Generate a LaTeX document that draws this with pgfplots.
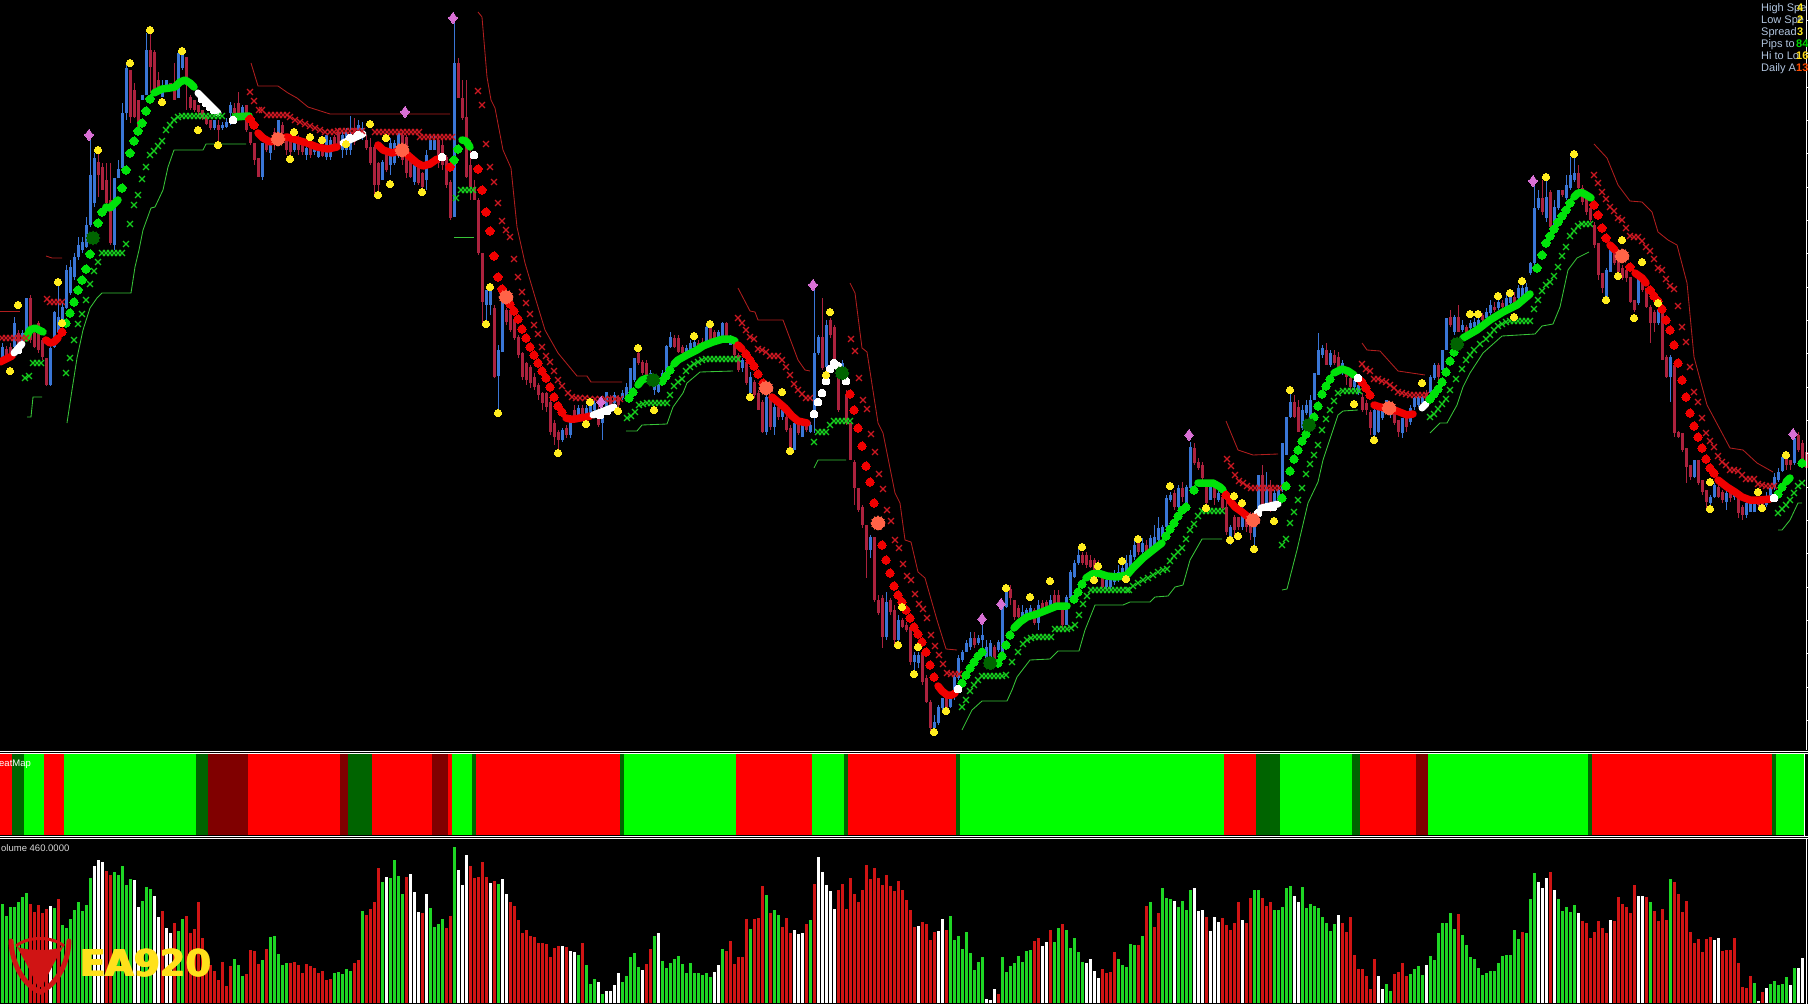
\documentclass[border=0pt]{standalone}
\usepackage{pgfplots}
\usepackage{pgfplotstable}
\usepackage{fontspec}
\setmainfont{Liberation Sans}
\newfontfamily\djsans{DejaVu Sans}
\pgfplotsset{compat=1.18}
\definecolor{cblue}{RGB}{58,118,214}
\definecolor{cred}{RGB}{172,34,62}
\definecolor{vg}{RGB}{30,214,36}
\definecolor{vr}{RGB}{208,20,20}
\definecolor{lg}{RGB}{56,196,56}
\definecolor{lr}{RGB}{176,30,30}
\definecolor{xg}{RGB}{22,205,30}
\definecolor{xr}{RGB}{205,24,34}
\definecolor{dg}{RGB}{0,226,10}
\definecolor{dotr}{RGB}{240,0,0}
\definecolor{dk}{RGB}{0,100,0}
\definecolor{dkr}{RGB}{128,0,0}
\definecolor{yel}{RGB}{255,236,30}
\definecolor{pink}{RGB}{218,112,214}
\definecolor{salm}{RGB}{255,99,71}
\definecolor{txt}{RGB}{176,196,222}
\pgfplotstableread[row sep=\\]{
x a b t d c\\
2 343 360 347 357 0\\ 6 346 362 349 357 1\\ 10 343 356 347 353 1\\ 14 317 350 323 347 0\\ 18 330 348 333 347 1\\ 22 330 345 333 343 0\\
26 298 337 298 333 0\\ 30 295 343 298 340 1\\ 34 330 348 333 347 1\\ 38 321 353 323 350 1\\ 42 338 360 340 357 1\\ 46 358 386 358 385 1\\
50 340 386 348 385 0\\ 54 311 348 312 347 0\\ 58 284 334 317 333 0\\ 62 303 327 307 322 0\\ 66 265 309 270 308 0\\ 70 260 295 267 293 0\\
74 253 280 257 277 0\\ 78 237 260 245 257 0\\ 82 237 253 242 250 0\\ 86 217 248 225 247 0\\ 90 138 227 175 225 0\\ 94 153 207 158 203 0\\
98 153 197 162 175 1\\ 102 163 190 167 190 1\\ 106 163 213 180 203 1\\ 110 163 245 200 243 1\\ 114 178 250 178 245 0\\ 118 160 178 169 178 0\\
122 103 170 113 168 0\\ 126 65 120 68 113 0\\ 130 70 123 70 117 1\\ 134 83 118 90 117 1\\ 138 100 127 100 127 1\\ 142 95 100 95 100 0\\
146 33 95 50 95 0\\ 150 33 93 50 67 1\\ 154 50 90 52 90 1\\ 158 72 90 80 90 1\\ 162 80 97 87 97 0\\ 166 80 90 80 90 0\\ 170 83 90 83 90 1\\
174 63 100 88 100 1\\ 178 53 98 53 98 0\\ 182 50 70 52 68 0\\ 186 57 110 57 78 1\\ 190 95 110 97 108 1\\ 194 100 112 100 110 1\\ 198 105 118 105 112 1\\
202 110 120 110 118 1\\ 206 115 125 116 124 1\\ 210 120 130 120 128 1\\ 214 120 130 120 128 0\\ 218 120 143 125 130 1\\ 222 122 130 125 128 0\\
226 118 128 122 127 0\\ 230 102 125 105 113 0\\ 234 103 118 108 113 1\\ 238 92 115 103 113 1\\ 242 105 118 107 113 0\\ 246 105 132 105 130 1\\
250 132 145 132 143 1\\ 254 143 165 143 160 1\\ 258 158 177 158 177 1\\ 262 143 180 143 177 0\\ 266 140 152 143 150 1\\ 270 143 160 143 153 0\\
274 128 150 132 145 1\\ 278 120 145 120 140 0\\ 282 122 142 125 133 1\\ 286 135 155 135 150 1\\ 290 135 155 140 152 1\\ 294 143 152 143 150 0\\
298 135 155 142 150 1\\ 302 140 155 143 152 1\\ 306 145 160 148 155 0\\ 310 143 158 145 155 1\\ 314 145 155 148 152 0\\ 318 150 158 150 157 0\\
322 145 157 147 156 1\\ 326 135 160 135 157 0\\ 330 137 160 140 157 0\\ 334 135 150 137 148 1\\ 338 128 150 132 148 1\\ 342 130 158 135 150 0\\
346 128 155 132 150 0\\ 350 116 155 135 150 0\\ 354 118 145 128 142 1\\ 358 120 140 125 138 0\\ 362 122 140 128 137 0\\ 366 135 150 140 148 1\\
370 138 165 147 163 1\\ 374 145 195 147 185 1\\ 378 162 192 163 185 1\\ 382 160 180 162 180 0\\ 386 150 172 153 170 1\\ 390 138 175 143 165 0\\
394 140 165 143 163 0\\ 398 132 158 133 156 0\\ 402 130 165 135 160 1\\ 406 135 178 137 173 1\\ 410 155 178 160 177 1\\ 414 160 185 165 182 0\\
418 165 185 167 183 1\\ 422 172 190 173 187 1\\ 426 150 190 155 180 0\\ 430 135 150 140 150 0\\ 434 135 150 140 150 0\\ 438 135 168 140 163 1\\
442 140 170 145 165 1\\ 446 155 188 157 185 1\\ 450 180 220 182 218 1\\ 454 20 217 63 217 0\\ 458 58 98 63 98 1\\ 462 80 120 98 118 1\\
466 80 178 117 177 1\\ 470 140 200 165 187 1\\ 474 180 200 187 200 1\\ 478 198 255 200 253 1\\ 482 253 323 253 302 1\\ 486 290 320 290 305 0\\
490 288 315 290 305 0\\ 494 305 378 308 377 1\\ 498 345 413 350 376 0\\ 502 302 352 302 352 0\\ 506 308 325 310 322 1\\ 510 308 332 310 330 1\\
514 318 340 320 338 1\\ 518 335 358 337 355 1\\ 522 352 380 353 377 1\\ 526 362 385 363 380 1\\ 530 365 388 367 383 1\\ 534 373 390 377 387 1\\
538 383 400 385 395 1\\ 542 392 410 393 403 1\\ 546 392 412 393 407 1\\ 550 400 435 402 432 1\\ 554 420 445 423 437 1\\ 558 430 450 432 440 1\\
562 428 442 430 440 0\\ 566 425 438 428 435 1\\ 570 415 438 420 435 0\\ 574 405 422 410 420 1\\ 578 405 420 408 417 0\\ 582 405 418 408 415 1\\
586 405 418 408 415 0\\ 590 400 415 405 413 0\\ 594 398 412 403 410 0\\ 598 405 427 410 425 1\\ 602 408 440 413 423 0\\ 606 392 412 392 410 0\\
610 395 410 397 408 1\\ 614 392 405 395 403 0\\ 618 395 408 397 405 1\\ 622 390 400 393 398 0\\ 626 383 398 387 397 0\\ 630 368 394 368 393 0\\
634 358 382 358 380 0\\ 638 350 365 353 363 1\\ 642 360 375 362 373 1\\ 646 360 378 363 375 1\\ 650 370 384 373 383 0\\ 654 375 395 378 390 0\\
658 378 393 380 392 0\\ 662 370 385 373 383 0\\ 666 345 372 346 372 0\\ 670 332 348 337 347 0\\ 674 335 348 338 347 1\\ 678 335 353 338 352 1\\
682 345 355 347 353 1\\ 686 345 358 348 357 0\\ 690 340 352 343 352 0\\ 694 338 347 342 347 0\\ 698 340 348 343 348 1\\ 702 338 347 342 347 1\\
706 325 342 327 342 0\\ 710 322 340 328 340 1\\ 714 330 342 332 340 1\\ 718 330 340 332 338 0\\ 722 322 337 323 337 0\\ 726 322 337 323 337 1\\
730 335 345 337 345 0\\ 734 340 358 343 355 1\\ 738 353 372 355 370 1\\ 742 358 372 360 368 0\\ 746 358 385 362 383 1\\ 750 372 400 377 393 0\\
754 380 398 382 395 1\\ 758 390 410 393 410 1\\ 762 400 433 402 432 1\\ 766 395 435 397 432 0\\ 770 395 430 397 427 1\\ 774 403 435 407 427 0\\
778 405 420 407 417 1\\ 782 405 420 410 417 0\\ 786 415 432 417 430 1\\ 790 425 450 428 448 1\\ 794 420 450 423 450 0\\ 798 420 435 423 433 1\\
802 420 437 423 437 0\\ 806 420 432 423 430 1\\ 810 422 433 425 432 0\\ 814 287 433 353 413 0\\ 818 335 355 337 353 0\\ 822 298 370 337 368 1\\
826 320 368 325 367 0\\ 830 318 338 320 335 1\\ 834 325 362 327 360 1\\ 838 375 412 377 410 1\\ 842 360 380 363 377 0\\ 846 390 425 395 423 1\\
850 423 460 423 460 1\\ 854 460 505 462 488 1\\ 858 488 512 488 510 1\\ 862 505 528 507 525 1\\ 866 525 578 525 550 1\\ 870 535 558 537 550 0\\
874 537 602 537 600 1\\ 878 595 615 600 613 1\\ 882 595 648 598 637 1\\ 886 592 640 602 637 0\\ 890 598 615 600 612 1\\ 894 605 645 610 640 1\\
898 615 642 620 640 0\\ 902 618 628 620 627 1\\ 906 622 632 625 630 1\\ 910 625 665 627 662 1\\ 914 652 672 655 662 0\\ 918 652 668 655 663 0\\
922 650 685 653 682 1\\ 926 675 703 678 702 1\\ 930 700 731 702 728 1\\ 934 715 730 722 728 0\\ 938 705 725 707 723 0\\ 942 698 712 698 708 0\\
946 698 710 698 708 1\\ 950 698 708 698 707 0\\ 954 675 700 677 697 0\\ 958 655 680 658 678 0\\ 962 650 662 652 660 0\\ 966 640 652 643 652 0\\
970 632 650 638 647 0\\ 974 632 648 638 645 1\\ 978 635 645 638 643 0\\ 982 625 655 635 640 0\\ 986 640 662 647 658 0\\ 990 640 660 643 657 0\\
994 645 662 647 660 1\\ 998 640 652 642 650 0\\ 1002 605 655 605 652 0\\ 1006 590 608 590 607 0\\ 1010 585 605 589 598 1\\ 1014 600 620 600 617 1\\
1018 605 618 608 617 1\\ 1022 605 620 612 617 0\\ 1026 608 620 610 617 0\\ 1030 605 618 608 615 0\\ 1034 608 625 610 623 1\\ 1038 600 630 605 623 0\\
1042 600 612 603 610 1\\ 1046 600 608 602 608 1\\ 1050 595 610 600 607 0\\ 1054 590 608 595 605 1\\ 1058 590 605 595 603 1\\ 1062 605 628 607 625 1\\
1066 595 625 597 625 0\\ 1070 570 600 572 598 0\\ 1074 560 578 563 577 0\\ 1078 548 565 555 563 0\\ 1082 552 565 555 563 1\\ 1086 552 568 555 565 1\\
1090 555 568 560 567 1\\ 1094 558 575 560 573 1\\ 1098 560 578 565 575 1\\ 1102 575 588 578 587 1\\ 1106 575 590 580 587 0\\ 1110 575 590 578 587 0\\
1114 570 585 575 582 0\\ 1118 565 582 572 580 0\\ 1122 560 577 568 575 0\\ 1126 555 572 563 572 0\\ 1130 550 570 555 568 0\\ 1134 540 560 545 557 0\\
1138 538 555 543 552 1\\ 1142 538 555 543 552 0\\ 1146 540 555 545 553 1\\ 1150 535 552 538 550 0\\ 1154 525 547 537 545 0\\ 1158 517 541 528 540 0\\
1162 525 540 527 537 0\\ 1166 495 530 498 527 0\\ 1170 492 502 495 500 0\\ 1174 490 510 493 507 1\\ 1178 485 508 488 507 0\\ 1182 482 502 488 497 1\\
1186 485 505 487 503 0\\ 1190 442 490 447 488 0\\ 1194 443 465 448 463 1\\ 1198 458 470 462 468 1\\ 1202 462 482 465 478 1\\ 1206 485 505 485 503 1\\
1210 485 500 487 500 0\\ 1214 485 505 487 498 1\\ 1218 490 502 493 500 0\\ 1222 495 510 497 508 1\\ 1226 500 535 507 532 1\\ 1230 525 545 527 537 0\\
1234 515 535 517 530 1\\ 1238 517 530 517 527 1\\ 1242 505 530 510 527 0\\ 1246 512 532 517 527 1\\ 1250 512 540 517 533 1\\ 1254 525 548 527 537 0\\
1258 475 515 475 513 0\\ 1262 465 510 475 507 1\\ 1266 472 510 487 503 0\\ 1270 480 512 488 508 1\\ 1274 490 510 493 507 0\\ 1278 485 502 490 500 0\\
1282 443 492 443 490 0\\ 1286 417 455 417 455 0\\ 1290 393 418 402 417 0\\ 1294 395 418 402 417 1\\ 1298 400 432 407 432 1\\ 1302 405 430 410 428 0\\
1306 400 415 405 413 0\\ 1310 395 418 400 417 0\\ 1314 373 400 373 400 0\\ 1318 333 375 350 375 0\\ 1322 345 358 348 355 0\\ 1326 343 365 350 365 1\\
1330 350 367 353 365 0\\ 1334 350 365 355 363 1\\ 1338 352 368 357 367 1\\ 1342 360 375 363 372 0\\ 1346 368 385 370 377 1\\ 1350 375 390 378 387 1\\
1354 378 390 380 387 0\\ 1358 380 395 385 393 0\\ 1362 393 412 397 410 1\\ 1366 400 415 403 410 1\\ 1370 410 435 412 428 1\\ 1374 408 437 410 435 0\\
1378 408 433 410 432 0\\ 1382 405 420 410 418 0\\ 1386 400 412 400 407 0\\ 1390 405 418 408 415 0\\ 1394 405 425 410 423 1\\ 1398 420 437 420 432 1\\
1402 418 438 418 433 0\\ 1406 418 432 418 427 1\\ 1410 405 425 408 422 0\\ 1414 397 410 398 407 0\\ 1418 395 407 397 405 0\\ 1422 395 405 397 403 0\\
1426 390 402 393 400 1\\ 1430 375 395 377 393 0\\ 1434 363 380 365 378 0\\ 1438 363 380 365 377 1\\ 1442 350 372 350 370 0\\ 1446 318 350 318 350 0\\
1450 310 327 317 325 1\\ 1454 315 335 317 332 0\\ 1458 305 332 317 332 1\\ 1462 320 332 325 330 0\\ 1466 325 335 327 333 1\\ 1470 320 330 323 328 0\\
1474 318 328 322 327 0\\ 1478 315 325 320 325 0\\ 1482 313 323 315 320 1\\ 1486 308 322 312 318 0\\ 1490 300 315 305 313 0\\ 1494 302 312 307 310 1\\
1498 295 310 302 308 0\\ 1502 300 310 303 307 1\\ 1506 295 308 298 307 0\\ 1510 292 305 297 303 0\\ 1514 292 305 297 303 1\\ 1518 285 302 288 298 0\\
1522 285 298 288 297 0\\ 1526 283 298 287 297 0\\ 1530 262 275 263 273 0\\ 1534 183 265 208 263 0\\ 1538 190 210 198 208 0\\ 1542 180 215 198 212 1\\
1546 180 222 197 218 0\\ 1550 190 228 192 227 1\\ 1554 200 228 207 227 0\\ 1558 190 210 190 208 0\\ 1562 190 197 190 195 1\\ 1566 175 200 185 198 0\\
1570 157 190 175 188 0\\ 1574 157 182 173 180 0\\ 1578 165 190 173 188 1\\ 1582 185 205 188 202 1\\ 1586 198 215 198 212 1\\ 1590 205 222 208 220 1\\
1594 222 248 225 245 1\\ 1598 243 280 243 275 1\\ 1602 273 293 273 288 1\\ 1606 268 298 270 297 0\\ 1610 250 272 250 272 0\\ 1614 250 265 250 263 1\\
1618 260 272 260 272 1\\ 1622 265 280 268 278 1\\ 1626 270 282 270 278 1\\ 1630 277 303 277 302 1\\ 1634 300 312 300 310 1\\ 1638 278 305 278 303 0\\
1642 280 292 280 290 1\\ 1646 288 308 288 307 1\\ 1650 305 343 307 323 1\\ 1654 310 332 312 323 1\\ 1658 305 325 310 323 0\\ 1662 305 360 307 360 1\\
1666 355 378 357 377 1\\ 1670 355 402 357 377 0\\ 1674 365 437 365 433 1\\ 1678 431 438 432 437 1\\ 1682 433 452 433 450 1\\ 1686 448 483 448 467 1\\
1690 465 480 465 477 1\\ 1694 460 478 460 477 0\\ 1698 460 485 460 483 1\\ 1702 480 495 480 492 1\\ 1706 490 510 490 502 1\\ 1710 495 508 497 503 0\\
1714 483 498 485 497 0\\ 1718 485 498 487 497 1\\ 1722 490 503 492 500 1\\ 1726 490 510 493 502 0\\ 1730 492 502 493 498 1\\ 1734 490 500 492 497 0\\
1738 495 518 497 513 1\\ 1742 505 520 507 515 1\\ 1746 500 518 503 515 0\\ 1750 500 512 503 512 0\\ 1754 500 512 503 512 0\\ 1758 497 508 500 505 1\\
1762 497 510 500 505 1\\ 1766 492 507 497 505 0\\ 1770 485 500 488 498 0\\ 1774 473 490 477 487 0\\ 1778 468 482 472 480 0\\ 1782 455 472 457 471 0\\
1786 457 470 458 465 1\\ 1790 460 470 460 465 1\\ 1794 437 465 438 463 0\\ 1798 432 452 435 450 1\\ 1802 440 462 443 460 1\\ 1806 450 470 452 468 1\\
}\cand
\pgfplotstableread[row sep=\\]{
h c\\
99 0\\ 87 0\\ 96 0\\ 96 0\\ 101 0\\ 106 0\\ 110 0\\ 99 1\\ 91 1\\ 98 1\\ 90 1\\ 94 1\\ 97 2\\ 95 0\\ 104 1\\ 78 0\\ 75 0\\ 84 0\\ 93 0\\ 101 0\\
92 0\\ 98 0\\ 125 0\\ 137 2\\ 143 2\\ 141 2\\ 132 1\\ 128 1\\ 131 0\\ 128 0\\ 137 0\\ 118 0\\ 124 0\\ 123 2\\ 96 2\\ 102 0\\ 116 0\\ 114 0\\ 107 2\\ 86 2\\
92 1\\ 75 2\\ 70 2\\ 80 1\\ 72 0\\ 84 0\\ 87 1\\ 70 1\\ 74 1\\ 101 1\\ 65 1\\ 49 1\\ 38 1\\ 32 1\\ 23 1\\ 41 1\\ 17 1\\ 37 1\\ 44 0\\ 38 0\\
27 0\\ 29 1\\ 53 1\\ 52 1\\ 39 1\\ 43 0\\ 54 1\\ 66 0\\ 67 0\\ 49 0\\ 38 0\\ 40 0\\ 40 1\\ 41 1\\ 38 1\\ 30 1\\ 39 1\\ 37 1\\ 35 1\\ 30 1\\
32 1\\ 23 1\\ 24 1\\ 30 0\\ 31 0\\ 29 0\\ 34 0\\ 32 0\\ 40 1\\ 43 1\\ 92 0\\ 88 1\\ 94 1\\ 101 1\\ 135 1\\ 121 0\\ 126 2\\ 125 0\\ 143 0\\ 127 0\\
109 0\\ 126 1\\ 129 2\\ 111 2\\ 91 2\\ 90 1\\ 109 2\\ 95 0\\ 76 0\\ 79 0\\ 84 0\\ 75 1\\ 87 1\\ 156 0\\ 133 2\\ 118 2\\ 148 2\\ 137 1\\ 125 1\\ 126 1\\
141 1\\ 126 1\\ 120 2\\ 122 1\\ 119 0\\
124 2\\ 109 2\\ 101 1\\ 97 1\\ 83 1\\ 70 1\\ 73 1\\ 67 1\\ 66 1\\ 60 1\\ 60 1\\ 59 1\\ 46 1\\ 55 1\\ 57 1\\ 57 2\\ 56 1\\ 52 2\\ 51 2\\ 48 0\\
60 1\\ 38 0\\ 19 0\\ 24 0\\ 21 2\\ 9 0\\ 12 2\\ 12 2\\ 18 2\\ 30 2\\ 21 0\\ 27 0\\ 46 0\\ 50 0\\ 36 0\\ 33 2\\ 39 1\\ 54 1\\ 67 0\\ 70 2\\
42 0\\ 35 0\\ 40 0\\ 44 0\\ 47 0\\ 39 0\\ 30 0\\ 40 0\\ 30 0\\ 30 0\\ 28 0\\ 30 0\\ 26 0\\ 31 2\\ 38 2\\ 54 0\\ 52 1\\ 62 1\\ 39 1\\ 46 1\\
46 1\\ 84 1\\ 74 0\\ 84 1\\ 85 1\\ 117 1\\ 108 0\\ 90 1\\ 93 0\\ 88 0\\ 76 1\\ 85 1\\ 70 1\\ 73 2\\ 69 2\\ 70 2\\ 79 1\\ 83 0\\ 119 1\\ 146 2\\
131 2\\ 118 2\\ 112 2\\ 94 2\\ 113 1\\ 119 1\\ 94 1\\ 125 1\\ 109 1\\ 101 1\\ 113 1\\ 138 1\\ 124 1\\ 135 1\\ 125 1\\ 118 1\\ 128 1\\ 117 1\\ 112 1\\ 122 1\\
113 1\\ 103 1\\ 93 1\\ 76 1\\ 77 2\\ 81 1\\ 79 1\\ 63 1\\ 71 1\\ 72 2\\ 84 2\\ 73 1\\ 87 0\\ 63 0\\ 67 0\\ 54 0\\ 71 0\\ 50 0\\ 33 0\\ 41 0\\
46 0\\ 4 2\\ 3 2\\ 14 2\\ 9 1\\ 46 0\\ 31 0\\ 37 0\\ 40 0\\ 47 0\\ 41 0\\ 52 0\\ 53 0\\ 62 1\\ 65 1\\ 57 2\\ 61 2\\ 73 1\\ 61 0\\ 75 0\\
79 1\\ 73 0\\ 55 0\\ 65 0\\ 51 0\\ 41 0\\ 40 2\\ 44 2\\ 32 2\\ 25 2\\ 34 1\\ 30 1\\ 31 1\\ 51 1\\ 44 0\\ 38 0\\ 36 0\\ 59 0\\ 58 0\\ 58 1\\
67 0\\ 97 1\\ 101 0\\ 76 1\\ 90 1\\
115 0\\ 105 0\\ 104 0\\ 102 2\\ 96 0\\ 102 0\\ 93 0\\ 113 0\\ 115 2\\ 92 2\\ 93 2\\ 86 1\\ 72 2\\ 86 2\\ 81 2\\ 85 1\\ 78 1\\ 73 1\\ 80 1\\ 101 1\\
83 2\\ 80 1\\ 105 1\\ 113 0\\ 113 0\\ 105 1\\ 97 1\\ 101 1\\ 93 0\\ 93 0\\ 96 0\\ 115 0\\ 117 0\\ 107 2\\ 101 2\\ 116 0\\ 95 0\\ 99 0\\ 97 0\\ 95 0\\
86 0\\ 80 0\\ 72 0\\ 79 0\\ 88 2\\ 80 1\\ 71 1\\ 86 1\\ 48 1\\ 34 1\\ 34 1\\ 27 1\\ 14 1\\ 44 1\\ 27 2\\ 14 2\\ 19 0\\ 12 0\\ 29 1\\ 31 1\\
40 1\\ 27 1\\ 29 0\\ 34 0\\ 37 0\\ 28 0\\ 38 2\\ 47 0\\ 43 0\\ 70 0\\ 80 0\\ 80 0\\ 90 0\\ 74 0\\ 89 1\\ 68 0\\ 58 0\\ 46 0\\ 44 0\\ 35 0\\
28 0\\ 30 0\\ 32 0\\ 32 0\\ 40 0\\ 47 0\\ 48 0\\ 48 0\\ 73 0\\ 64 0\\ 71 1\\ 70 0\\ 104 0\\ 130 0\\ 121 2\\ 115 2\\ 125 2\\ 131 1\\ 113 2\\ 104 0\\
92 0\\ 96 0\\ 91 0\\ 98 0\\ 90 2\\ 82 1\\ 80 1\\ 65 1\\ 71 1\\ 82 1\\ 75 1\\ 70 1\\ 83 2\\ 82 1\\ 106 1\\ 99 1\\ 96 1\\ 90 1\\ 118 1\\ 107 2\\
107 2\\ 106 1\\ 101 0\\ 92 1\\ 82 1\\ 94 1\\ 83 1\\ 124 0\\ 121 1\\ 109 1\\ 91 1\\ 102 1\\ 71 1\\ 60 1\\ 64 1\\ 51 1\\ 64 1\\ 66 1\\ 63 2\\ 65 2\\
52 1\\ 53 1\\ 53 1\\ 65 1\\ 40 1\\ 16 1\\ 15 1\\ 27 1\\ 20 0\\ 2 2\\ 11 1\\ 15 2\\ 19 0\\ 22 0\\ 18 0\\ 19 0\\ 26 0\\ 18 2\\ 35 0\\ 35 2\\ 45 2\\
}\vol
\pgfplotsset{pan/.style={scale only axis,hide axis,clip=true,xmin=0,xmax=1808,width=1808pt},
 tl/.style={no markers,forget plot,line width=0.85pt,lg},
 tr/.style={no markers,forget plot,line width=0.85pt,lr},
 gk/.style={no markers,forget plot,line width=7.5pt,dg,line cap=round,line join=round},
 rk/.style={no markers,forget plot,line width=7.5pt,dotr,line cap=round,line join=round},
 wk/.style={no markers,forget plot,line width=7pt,white,line cap=round,line join=round},
 mk/.style n args={3}{only marks,forget plot,mark=#1,mark size=#2,mark options={fill=#3,draw=#3,line width=1.35pt}},
 md/.style n args={3}{only marks,forget plot,mark=#1,mark size=#2,mark options={fill=#3,draw=#3,line width=0pt}}}
\newcommand\seg[3]{\addplot[fill=#1,draw=none,forget plot] coordinates {(#2,0)(#2,1)(#3,1)(#3,0)} -- cycle;}
\begin{document}
\begin{tikzpicture}
\useasboundingbox (0,0) rectangle (1808pt,1004pt);
\fill[black] (0,0) rectangle (1808pt,1004pt);
% ---------- price panel
\begin{axis}[pan,at={(0pt,254pt)},anchor=south west,height=750pt,ymin=0,ymax=750,y dir=reverse]
\addplot[draw=none,forget plot,error bars/.cd,y dir=both,y explicit,error mark=none,error bar style={line width=1pt,draw=cblue}] table[x=x,y expr={\thisrow{c}==0?(\thisrow{a}+\thisrow{b})/2:nan},y error expr={(\thisrow{b}-\thisrow{a})/2}] {\cand};
\addplot[draw=none,forget plot,error bars/.cd,y dir=both,y explicit,error mark=none,error bar style={line width=1pt,draw=cred}] table[x=x,y expr={\thisrow{c}==1?(\thisrow{a}+\thisrow{b})/2:nan},y error expr={(\thisrow{b}-\thisrow{a})/2}] {\cand};
\addplot[draw=none,forget plot,error bars/.cd,y dir=both,y explicit,error mark=none,error bar style={line width=3pt,draw=cblue}] table[x=x,y expr={\thisrow{c}==0?(\thisrow{t}+\thisrow{d})/2:nan},y error expr={(\thisrow{d}-\thisrow{t})/2}] {\cand};
\addplot[draw=none,forget plot,error bars/.cd,y dir=both,y explicit,error mark=none,error bar style={line width=3pt,draw=cred}] table[x=x,y expr={\thisrow{c}==1?(\thisrow{t}+\thisrow{d})/2:nan},y error expr={(\thisrow{d}-\thisrow{t})/2}] {\cand};
% thin bands
\addplot[tl] coordinates {(27,417)(31,417)(33,397)(42,397)};
\addplot[tl] coordinates {(67,423)(72,390)(77,358)(83,330)(90,308)(97,298)(102,293)(131,293)(135,267)(139,250)(143,230)(151,208)(155,207)(163,190)(168,167)(174,150)(203,150)(206,144)(246,144)};
\addplot[tl] coordinates {(454,237)(474,237)};
\addplot[tl] coordinates {(626,431)(637,431)(642,425)(667,424)(673,407)(683,393)(687,383)(700,372)(733,371)};
\addplot[tl] coordinates {(814,468)(818,460)(846,460)};
\addplot[tl] coordinates {(962,730)(972,710)(982,701)(1007,701)(1012,690)(1017,677)(1030,660)(1050,659)(1058,651)(1079,651)(1085,630)(1095,605)(1123,605)(1130,602)(1150,602)(1155,597)(1168,596)(1175,587)(1183,585)(1190,560)(1202,539)(1222,539)};
\addplot[tl] coordinates {(1282,590)(1287,589)(1297,550)(1308,503)(1318,482)(1323,460)(1338,415)(1343,411)(1358,410)};
\addplot[tl] coordinates {(1430,433)(1440,423)(1447,423)(1457,405)(1463,387)(1470,373)(1483,353)(1502,336)(1535,334)(1542,326)(1553,324)(1560,307)(1568,270)(1577,258)(1589,252)};
\addplot[tl] coordinates {(1778,530)(1782,530)(1790,520)(1798,503)(1802,503)};
\addplot[tr] coordinates {(46,256)(52,258)(62,258)};
\addplot[tr] coordinates {(0,311)(20,311)};
\addplot[tr] coordinates {(251,63)(258,86)(278,86)(288,93)(297,98)(308,107)(330,114)(450,114)};
\addplot[tr] coordinates {(478,12)(482,17)(487,77)(491,100)(495,108)(503,150)(511,168)(517,227)(525,263)(535,297)(545,330)(558,353)(577,376)(587,376)(591,382)(622,382)};
\addplot[tr] coordinates {(738,288)(750,311)(755,312)(758,320)(783,320)(798,360)(805,370)(810,371)};
\addplot[tr] coordinates {(850,283)(855,293)(862,348)(867,352)(878,423)(883,433)(895,493)(900,503)(905,540)(911,542)(918,572)(925,578)(937,620)(946,649)(957,650)};
\addplot[tr] coordinates {(1226,421)(1238,450)(1253,455)(1278,454)};
\addplot[tr] coordinates {(1362,343)(1367,350)(1380,351)(1398,371)(1425,375)};
\addplot[tr] coordinates {(1594,144)(1607,158)(1618,185)(1630,201)(1642,202)(1652,212)(1658,232)(1668,240)(1677,245)(1687,283)(1694,357)(1707,405)(1730,448)(1743,450)(1757,463)(1773,472)};
% crosses
\addplot[mk={x}{4.2pt}{xr}] coordinates {(2,338)(6,338)(10,338)(14,338)(18,338)(22,338)(26,338)(47,299)(50,302)(54,302)(58,302)(62,302)
(250,92)(254,101)(259,110)(262,110)(267,115)(271,115)(275,115)(279,115)(283,115)(287,115)(290,117)(295,120)(300,122)(305,124)(310,126)(315,128)(320,130)(325,132)(330,132)(334,132)(338,131)(342,131)(346,131)(350,131)(354,131)(358,131)(362,131)
(375,132)(379,132)(383,132)(387,132)(391,132)(395,132)(399,132)(403,132)(407,132)(411,132)(415,132)(419,132)(420,137)(424,137)(428,137)(432,137)(436,137)(440,137)(444,137)(448,137)(452,137)
(478,91)(482,105)(486,144)(490,167)(494,182)(498,203)(502,221)(506,230)(510,237)(514,259)(518,277)(522,292)(526,303)(530,314)(534,325)(538,334)(542,347)(546,356)(550,362)(554,371)(558,380)(562,386)(568,393)(572,397)(576,398)(580,398)(585,398)(590,399)(595,399)(600,399)(605,399)(610,399)(615,399)(620,399)
(738,318)(742,323)(746,330)(750,337)(754,339)(758,349)(762,350)(766,352)(770,356)(774,356)(778,356)(782,360)(786,367)(790,375)(794,384)(798,390)(802,394)(806,398)(810,398)
(851,339)(855,351)(859,378)(863,400)(867,409)(871,434)(875,452)(879,474)(883,489)(887,510)(891,521)(895,540)(899,548)(903,564)(907,576)(911,580)(915,594)(919,604)(923,609)(927,618)(931,635)(935,646)(939,655)(943,664)(947,673)(951,674)(955,674)(959,674)
(1227,459)(1231,466)(1235,475)(1239,481)(1243,483)(1247,486)(1251,488)(1255,488)(1259,488)(1263,488)(1267,488)(1271,488)(1275,488)(1279,488)
(1362,364)(1366,369)(1370,371)(1374,379)(1378,379)(1382,381)(1386,382)(1390,385)(1394,388)(1398,392)(1402,393)(1406,394)(1410,395)(1414,395)(1418,395)(1422,395)(1426,395)
(1594,175)(1598,183)(1602,192)(1606,199)(1610,207)(1614,211)(1618,218)(1622,220)(1626,228)(1630,236)(1634,237)(1638,237)(1642,241)(1646,247)(1650,251)(1654,259)(1658,268)(1662,270)(1666,279)(1670,286)(1674,289)(1678,306)(1682,327)(1686,342)(1690,367)(1694,392)(1698,402)(1702,418)(1706,433)(1710,441)(1714,447)(1718,456)(1722,462)(1726,465)(1730,470)(1734,470)(1738,471)(1742,475)(1746,479)(1750,479)(1754,479)(1758,484)(1762,485)(1766,486)(1770,486)(1774,486)};
\addplot[mk={x}{4.2pt}{xg}] coordinates {(25,378)(29,376)(33,363)(37,363)(41,363)
(66,373)(70,358)(74,340)(78,324)(82,314)(86,300)(90,284)(94,271)(98,262)(102,253)(106,253)(110,253)(114,253)(118,253)(122,253)(126,244)(130,224)(134,205)(138,195)(142,179)(146,167)(150,155)(154,151)(158,146)(162,141)(166,130)(170,125)(174,120)(178,117)(182,116)(186,116)(190,116)(194,116)(198,116)(202,116)(206,116)(210,116)(214,116)(218,116)(222,116)(235,116)(239,116)(243,116)(247,116)
(456,198)(461,190)(465,190)(469,190)(473,190)
(627,418)(631,416)(635,412)(639,405)(643,404)(647,403)(651,403)(655,403)(659,403)(663,403)(667,403)(670,395)(674,386)(678,382)(682,379)(686,371)(690,367)(694,364)(698,362)(702,360)(706,359)(710,359)(714,359)(718,359)(722,359)(726,359)(730,359)(734,359)(738,359)
(814,442)(818,432)(822,432)(826,432)(830,425)(834,421)(838,421)(842,421)(846,421)(850,421)
(962,707)(966,700)(970,691)(974,685)(978,680)(982,676)(986,676)(990,676)(994,676)(998,676)(1002,676)(1006,675)(1012,662)(1018,652)(1023,644)(1027,640)(1031,638)(1035,637)(1039,637)(1043,637)(1047,637)(1051,637)(1055,629)(1059,629)(1063,629)(1067,629)(1071,628)(1075,625)(1079,615)(1083,604)(1087,596)(1091,590)(1095,590)(1099,590)(1103,590)(1107,590)(1111,590)(1115,590)(1119,590)(1123,590)(1127,590)(1129,590)(1133,586)(1138,583)(1143,580)(1148,578)(1153,575)(1158,572)(1163,570)(1167,569)(1170,561)(1174,556)(1178,552)(1182,548)(1186,539)(1190,530)(1194,524)(1198,516)(1202,511)(1206,511)(1210,511)(1214,511)(1218,511)(1222,511)
(1282,545)(1286,539)(1290,523)(1294,512)(1298,500)(1302,488)(1306,474)(1310,464)(1314,455)(1318,445)(1322,430)(1326,419)(1330,410)(1334,401)(1338,393)(1343,391)(1347,391)(1351,391)(1355,391)(1359,391)
(1430,417)(1434,414)(1438,409)(1442,404)(1446,399)(1450,390)(1456,379)(1462,369)(1466,360)(1470,355)(1474,350)(1480,344)(1486,339)(1490,335)(1494,330)(1498,326)(1502,324)(1506,322)(1510,321)(1514,321)(1518,321)(1522,321)(1526,321)(1530,321)
(1534,309)(1538,300)(1542,291)(1546,285)(1550,282)(1554,276)(1558,267)(1562,256)(1566,247)(1570,236)(1574,231)(1578,226)(1582,224)(1586,224)(1590,224)
(1778,513)(1782,509)(1786,505)(1790,500)(1794,493)(1798,486)(1802,483)};
% thick MA runs
\addplot[gk] coordinates {(26,338)(30,330)(35,328)(39,330)(43,332)};
\addplot[gk] coordinates {(106,207)(110,208)(114,204)(118,200)};
\addplot[gk] coordinates {(154,93)(162,89)(170,88)(175,87)(180,82)(185,80)(190,83)(194,87)};
\addplot[gk] coordinates {(235,117)(249,116)};
\addplot[gk] coordinates {(462,140)(466,141)(470,147)};
\addplot[gk] coordinates {(638,385)(642,380)(647,378)};
\addplot[gk] coordinates {(674,364)(678,360)(687,355)(697,350)(703,346)(713,342)(723,339)(730,339)(735,341)};
\addplot[gk] coordinates {(1014,628)(1020,622)(1027,617)(1037,614)(1047,610)(1057,606)(1067,606)};
\addplot[gk] coordinates {(1086,578)(1092,574)(1098,573)(1107,576)(1117,577)(1127,575)(1133,568)(1143,558)(1153,550)(1162,543)};
\addplot[gk] coordinates {(1198,483)(1205,483)(1213,483)(1220,487)(1223,490)};
\addplot[gk] coordinates {(1334,373)(1342,369)(1348,371)(1354,375)};
\addplot[gk] coordinates {(1463,338)(1477,330)(1490,320)(1503,312)(1517,305)(1530,294)};
\addplot[gk] coordinates {(1574,197)(1578,193)(1583,193)(1588,196)(1591,198)};
\addplot[gk] coordinates {(1786,482)(1790,478)};
\addplot[rk] coordinates {(0,362)(12,356)};
\addplot[rk] coordinates {(46,340)(50,343)(54,342)(58,338)};
\addplot[rk] coordinates {(258,133)(263,138)(270,142)(278,139)(287,137)(297,140)(307,143)(317,147)(328,149)(337,147)};
\addplot[rk] coordinates {(378,145)(383,150)(392,153)(402,150)(410,157)(417,163)(423,166)(430,164)(437,159)};
\addplot[rk] coordinates {(566,418)(570,419)(575,419)(580,418)(587,417)(590,416)};
\addplot[rk] coordinates {(738,345)(742,349)};
\addplot[rk] coordinates {(772,397)(778,402)(785,408)(792,416)(798,421)(807,423)};
\addplot[rk] coordinates {(938,686)(942,691)(947,695)(952,695)(955,693)};
\addplot[rk] coordinates {(1230,501)(1235,507)(1242,512)(1248,517)};
\addplot[rk] coordinates {(1374,405)(1380,407)(1389,408)(1397,411)(1407,415)(1413,414)};
\addplot[rk] coordinates {(1610,245)(1615,250)};
\addplot[rk] coordinates {(1635,273)(1642,278)(1646,283)};
\addplot[rk] coordinates {(1718,480)(1727,487)(1735,492)(1742,497)(1750,500)(1760,500)(1770,499)};
\addplot[wk] coordinates {(14,353)(22,344)};
\addplot[wk] coordinates {(198,93)(218,113)};
\addplot[wk] coordinates {(343,143)(363,134)};
\addplot[wk] coordinates {(593,415)(614,407)};
\addplot[wk] coordinates {(1261,508)(1278,504)};
\addplot[wk] coordinates {(1422,408)(1426,404)};
% dots
\addplot[md={*}{4.1pt}{dg}] coordinates {(66,323)(70,313)(74,302)(78,290)(82,280)(86,269)(90,254)(98,223)(102,212)(122,188)(126,170)(130,153)(134,141)(138,131)(142,123)(146,111)(150,99)(454,160)(458,149)(629,398)(633,392)(662,381)(666,376)(670,370)(962,683)(966,675)(970,668)(974,662)(978,656)(982,652)(998,663)(1002,656)(1006,645)(1010,635)(1074,599)(1078,592)(1082,584)(1166,536)(1170,529)(1174,523)(1178,516)(1182,510)(1186,507)(1194,490)(1282,498)(1286,486)(1290,471)(1294,459)(1298,450)(1302,441)(1306,434)(1314,417)(1318,406)(1322,394)(1326,386)(1330,379)(1430,399)(1434,394)(1438,389)(1442,382)(1446,372)(1450,361)(1454,352)(1537,268)(1542,255)(1546,243)(1550,236)(1554,229)(1558,222)(1562,216)(1566,210)(1570,203)(1778,494)(1782,487)(1802,463)};
\addplot[md={*}{4.1pt}{dotr}] coordinates {(62,332)(250,119)(254,125)(450,167)(478,169)(482,190)(486,212)(490,231)(494,256)(498,277)(502,289)(510,304)(514,311)(518,319)(522,329)(526,338)(530,347)(534,355)(538,363)(542,371)(546,378)(550,387)(554,397)(558,406)(562,412)(746,354)(750,360)(754,366)(758,374)(763,383)(850,394)(854,410)(858,428)(862,446)(866,466)(870,482)(874,503)(882,545)(886,560)(890,573)(894,586)(898,595)(902,602)(906,610)(910,618)(914,627)(918,634)(922,642)(926,652)(930,665)(934,677)(1226,495)(1362,382)(1366,388)(1370,395)(1594,205)(1598,215)(1602,228)(1606,238)(1630,267)(1650,290)(1654,296)(1658,301)(1662,309)(1666,320)(1670,330)(1674,345)(1678,363)(1682,380)(1686,397)(1690,413)(1694,426)(1698,437)(1702,448)(1706,459)(1710,468)(1714,473)};
\addplot[md={*}{3.9pt}{white}] coordinates {(18,350)(202,99)(206,103)(210,107)(214,110)(233,120)(350,138)(358,135)(442,157)(474,155)(600,415)(607,411)(814,414)(818,402)(822,393)(826,381)(830,369)(834,363)(838,366)(846,381)(958,689)(1258,513)(1267,507)(1273,507)(1358,378)(1774,498)};
\addplot[md={*}{3.6pt}{yel}] coordinates {(10,371)(18,305)(58,282)(62,323)(98,150)(130,63)(150,30)(162,102)(182,51)(198,130)(218,145)(290,159)(294,132)(310,137)(322,140)(346,144)(370,124)(378,195)(386,138)(390,184)(422,192)(490,287)(486,324)(498,413)
(558,453)(586,424)(590,402)(618,411)(638,348)(654,410)(694,336)(710,324)(750,397)(782,392)(790,451)(826,375)(830,312)
(898,645)(902,607)(914,674)(918,647)(934,732)(946,711)(1006,588)(1030,597)(1050,581)(1082,547)(1094,580)(1098,566)(1122,561)(1126,579)(1138,539)(1170,486)(1206,508)(1230,540)(1234,496)(1238,536)
(1242,503)(1254,549)(1274,521)(1290,390)(1354,404)(1374,440)(1422,383)(1470,314)(1478,314)
(1498,296)(1510,293)(1514,317)(1522,281)(1546,177)(1574,154)(1606,300)(1618,276)(1622,240)(1634,318)(1642,262)(1658,303)(1710,482)(1710,509)(1758,492)(1762,508)(1786,455)};
\addplot[md={diamond*}{5.6pt}{pink}] coordinates {(89,135)(405,112)(453,18)(601,402)(813,285)(982,619)(1001,604)(1189,435)(1533,181)(1793,434)};
\addplot[md={*}{6.4pt}{salm}] coordinates {(278,139)(402,150)(506,297)(766,388)(878,523)(1253,520)(1389,408)(1622,256)};
\addplot[mk={asterisk}{7.4pt}{salm}] coordinates {(278,139)(402,150)(506,297)(766,388)(878,523)(1253,520)(1389,408)(1622,256)};
\addplot[mk={asterisk}{7.4pt}{salm},every mark/.append style={rotate=30}] coordinates {(278,139)(402,150)(506,297)(766,388)(878,523)(1253,520)(1389,408)(1622,256)};
\addplot[md={*}{6.2pt}{dk}] coordinates {(93,238)(653,380)(842,373)(990,663)(1309,425)(1457,344)};
\addplot[mk={asterisk}{7.2pt}{dk}] coordinates {(93,238)(653,380)(842,373)(990,663)(1309,425)(1457,344)};
\addplot[mk={asterisk}{7.2pt}{dk},every mark/.append style={rotate=30}] coordinates {(93,238)(653,380)(842,373)(990,663)(1309,425)(1457,344)};
\end{axis}
% ---------- heat map panel
\begin{axis}[pan,at={(0pt,169pt)},anchor=south west,height=81pt,ymin=0,ymax=1]
\seg{red}{0}{12}\seg{dk}{12}{24}\seg{green}{24}{44}\seg{red}{44}{64}\seg{green}{64}{196}\seg{dk}{196}{208}\seg{dkr}{208}{248}\seg{red}{248}{340}\seg{dkr}{340}{348}\seg{dk}{348}{372}\seg{red}{372}{432}\seg{dkr}{432}{448}\seg{red}{448}{452}\seg{green}{452}{472}\seg{dk}{472}{476}\seg{red}{476}{620}\seg{dk}{620}{624}\seg{green}{624}{736}\seg{red}{736}{812}\seg{green}{812}{844}\seg{dk}{844}{848}\seg{red}{848}{956}\seg{dk}{956}{960}\seg{green}{960}{1224}\seg{red}{1224}{1256}\seg{dk}{1256}{1280}\seg{green}{1280}{1352}\seg{dk}{1352}{1360}\seg{red}{1360}{1416}\seg{dkr}{1416}{1428}\seg{green}{1428}{1588}\seg{dk}{1588}{1592}\seg{red}{1592}{1772}\seg{dk}{1772}{1776}\seg{green}{1776}{1804}
\end{axis}
% ---------- volume panel
\begin{axis}[pan,at={(0pt,0pt)},anchor=south west,height=161pt,ymin=-1,ymax=160]
\addplot[ycomb,no markers,forget plot,line width=3pt,vg] table[x expr={2.33+4*\coordindex},y expr={\thisrow{c}==0?\thisrow{h}:nan}] {\vol};
\addplot[ycomb,no markers,forget plot,line width=3pt,vr] table[x expr={2.33+4*\coordindex},y expr={\thisrow{c}==1?\thisrow{h}:nan}] {\vol};
\addplot[ycomb,no markers,forget plot,line width=3pt,white] table[x expr={2.33+4*\coordindex},y expr={\thisrow{c}==2?\thisrow{h}:nan}] {\vol};
\end{axis}
% ---------- frame, texts, logo (pixel coordinates)
\begin{scope}[x=1pt,y=-1pt,yshift=1004pt]
\draw[white,line width=1pt] (0,751.3)--(1808,751.3) (0,753.4)--(1808,753.4) (0,836.3)--(1808,836.3) (0,838.6)--(1808,838.6);
\draw[white,line width=1pt] (1806.5,0)--(1806.5,750) (1804.5,754)--(1804.5,836) (1806.5,839)--(1806.5,1004);
\foreach \y in {20,53,87,120,153,187,220,253,287,320,353,387,420,453,487,520,553,587,620,653,687,720}
  \draw[white,line width=.8pt] (1806.5,\y)--(1808,\y);
\node[anchor=base west,inner sep=0,white,font=\fontsize{9.5pt}{10pt}\selectfont] at (-1,766.5) {eatMap};
\node[anchor=base west,inner sep=0,white!85!black,font=\fontsize{9.5pt}{10pt}\selectfont] at (1,851.5) {olume 460.0000};
\begin{scope}[font=\fontsize{11pt}{12pt}\selectfont,every node/.style={anchor=base west,inner sep=0}]
\node[text=txt] at (1761,12) {High Spe};
\node[text=txt] at (1761,24) {Low Spe};
\node[text=txt] at (1761,36) {Spread};
\node[text=txt] at (1761,48) {Pips to};
\node[text=txt] at (1761,60) {Hi to Lo};
\node[text=txt] at (1761,72) {Daily A};
\node[text=yel,font=\fontsize{11pt}{12pt}\bfseries\selectfont] at (1797,12) {4};
\node[text=yel,font=\fontsize{11pt}{12pt}\bfseries\selectfont] at (1797,24) {2};
\node[text=yel,font=\fontsize{11pt}{12pt}\bfseries\selectfont] at (1797,36) {3};
\node[text=green!85!black,font=\fontsize{11pt}{12pt}\bfseries\selectfont] at (1796,48) {84};
\node[text=yel!85!orange,font=\fontsize{11pt}{12pt}\bfseries\selectfont] at (1796,60) {16};
\node[text=orange!60!red,font=\fontsize{11pt}{12pt}\bfseries\selectfont] at (1796,72) {13};
\end{scope}
% logo
\draw[vr,line width=5pt,line cap=round] (11,941) .. controls (12,965) and (24,985) .. (40,992) .. controls (56,985) and (68,965) .. (69,941);
\draw[vr,line width=3pt] (16,946) .. controls (28,936) and (52,936) .. (64,946);
\fill[vr] (17,947) .. controls (30,951) and (50,951) .. (63,947) -- (53,965) -- (42,987) -- (38,987) -- (27,965) -- cycle;
\foreach \dx in {-0.7,0,0.7}
  \node[inner sep=0,text=yel!90!orange,font=\djsans\bfseries\fontsize{37pt}{37pt}\selectfont] at (146+\dx,963) {EA920};
\end{scope}
\end{tikzpicture}
\end{document}
